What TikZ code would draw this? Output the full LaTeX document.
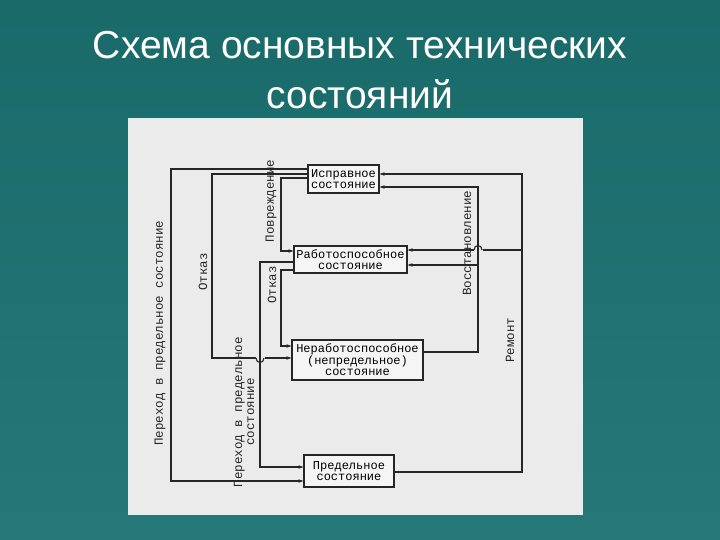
\documentclass[tikz,border=0pt]{standalone}
\usepackage{fontspec}
\setmainfont{Liberation Sans}
\newfontfamily\dmono{Liberation Mono}
\usetikzlibrary{arrows.meta}
\tikzset{
 st/.style={draw=black!85,line width=1.1pt,fill=white!96!black,align=center,font=\dmono\fontsize{12}{11}\selectfont,inner sep=0pt},
 ln/.style={draw=black!85,line width=1.1pt},
 arr/.style={ln,-{Stealth[length=5pt,width=3.5pt]}},
 gap/.style={draw=black!8,line width=3pt},
 lab/.style={font=\dmono\fontsize{12.5}{12}\selectfont,rotate=90,align=center,text=black!85}
}
\begin{document}
\begin{tikzpicture}[x=1pt,y=-1pt]
\fill[top color=teal!70!black!90,bottom color=teal!75!black!85] (0,0) rectangle (720,540);
\useasboundingbox (0,0) rectangle (720,540);
\node[text=white,font=\fontsize{39}{50}\selectfont,align=center] (title) at (360,70) {Схема основных технических\\состояний};
\fill[black!8] (128,118) rectangle (583,515);
\node[st,minimum width=71,minimum height=28] (isp) at (343.5,179) {Исправное\\состояние};
\node[st,minimum width=113,minimum height=27] (rab) at (350.5,259.5) {Работоспособное\\состояние};
\node[st,minimum width=131,minimum height=40] (ner) at (357.5,360) {Неработоспособное\\(непредельное)\\состояние};
\node[st,minimum width=90,minimum height=32] (pre) at (349,471) {Предельное\\состояние};
% left side
\coordinate (a1) at (171,169); \coordinate (a2) at (171,481);
\draw[arr] (isp.west |- a1) -- (a1) -- (a2) -- (pre.west |- a2);
\coordinate (b1) at (212,174); \coordinate (b2) at (212,358);
\draw[arr] (isp.west |- b1) -- (b1) -- (b2) -- (ner.west |- b2);
\coordinate (c1) at (281,178); \coordinate (c2) at (281,251);
\draw[arr] (isp.west |- c1) -- (c1) -- (c2) -- (rab.west |- c2);
\coordinate (d1) at (260,262); \coordinate (d2) at (260,467);
\draw[arr] (rab.west |- d1) -- (d1) -- (d2) -- (pre.west |- d2);
\coordinate (e1) at (281,270); \coordinate (e2) at (281,346);
\draw[arr] (rab.west |- e1) -- (e1) -- (e2) -- (ner.west |- e2);
% right side
\coordinate (r1) at (522,472); \coordinate (r2) at (522,174);
\draw[arr] (pre.east |- r1) -- (r1) -- (r2) -- (isp.east |- r2);
\coordinate (v1) at (478,352); \coordinate (v2) at (478,187);
\draw[arr] (ner.east |- v1) -- (v1) -- (v2) -- (isp.east |- v2);
\coordinate (r3) at (522,250); \coordinate (v3) at (478,265);
\draw[arr] (r3) -- (rab.east |- r3);
\draw[arr] (v3) -- (rab.east |- v3);
% hops
\draw[gap] (255.5,358) -- (264.5,358);
\draw[ln] (260,350) -- (260,366);
\draw[ln] (256,358) .. controls (256,364) and (264,364) .. (264,358);
\draw[gap] (473.5,250) -- (482.5,250);
\draw[ln] (478,242) -- (478,258);
\draw[ln] (482,250) .. controls (482,244) and (474,244) .. (474,250);
% labels
\node[lab] (l1) at (160,333) {Переход в предельное состояние};
\node[lab] (l2) at (203,272) {Отказ};
\node[lab] (l3) at (271,201) {Повреждение};
\node[lab] (l4) at (272,285) {Отказ};
\node[lab] (l5) at (244,412) {Переход в предельное\\состояние};
\node[lab] (l6) at (467,243) {Восстановление};
\node[lab] (l7) at (510,340) {Ремонт};
\end{tikzpicture}
\end{document}
